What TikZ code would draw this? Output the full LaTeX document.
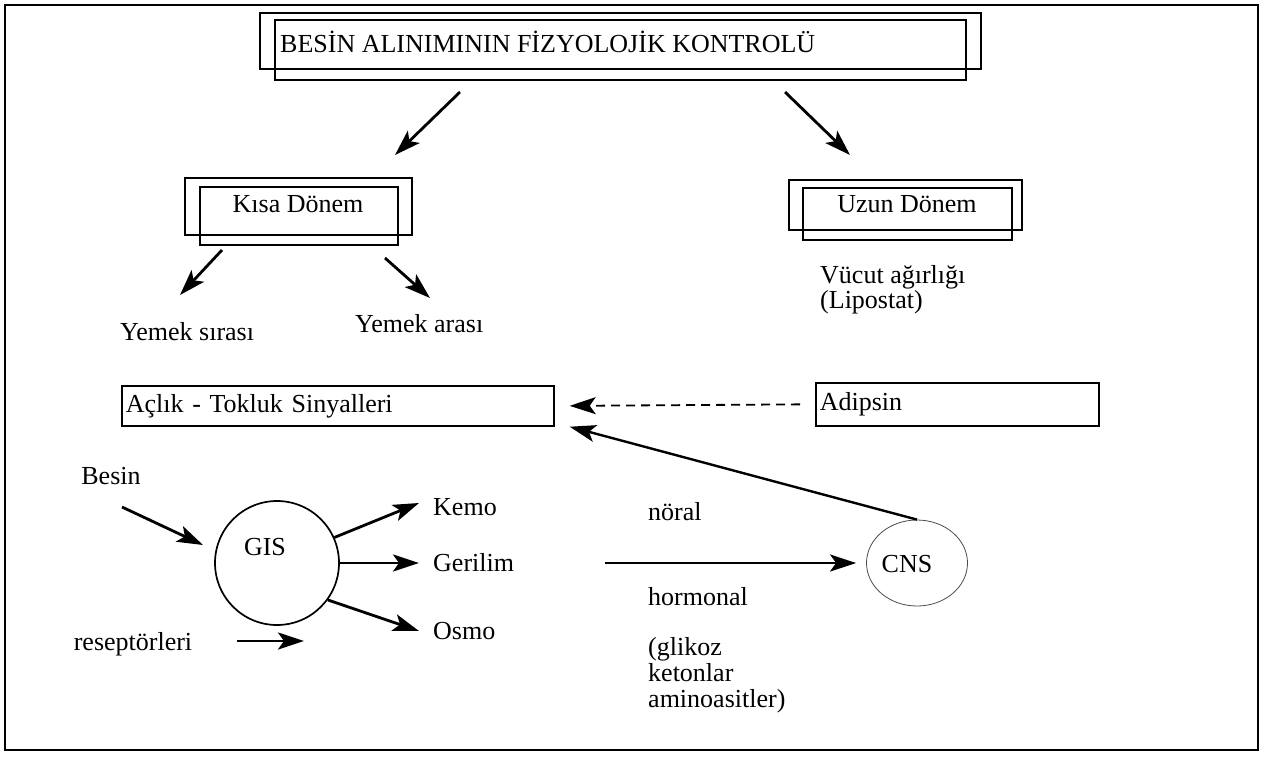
\documentclass[tikz,border=0pt]{standalone}
\usepackage{fontspec}
\setmainfont{Liberation Serif}
\usetikzlibrary{arrows.meta,shapes.geometric}

\tikzset{
  lbl/.style={font=\fontsize{26}{30}\selectfont, inner sep=0pt},
  box/.style={line width=1.7pt},
  sigbox/.style={draw, line width=1.7pt, font=\fontsize{26}{30}\selectfont,
    align=left, inner sep=4pt, anchor=north west},
  arr/.style={-{Stealth[length=26pt,width=17pt,inset=6pt]}, line width=2.8pt},
}

\begin{document}
\begin{tikzpicture}[x=1pt,y=-1pt]
    \useasboundingbox (0,0) rectangle (1265,756);
    \draw[line width=1.6pt] (5,5) rectangle (1258,750);

    % title box
    \draw[box] (260,13) rectangle (981,69);
    \draw[box] (275,20) rectangle (966,80);
    \node[lbl, anchor=base west] (title) at (280,52) {BESİN ALINIMININ FİZYOLOJİK KONTROLÜ};

    % short and long term
    \draw[box] (185,178) rectangle (412,235);
    \draw[box] (200,187) rectangle (398,245);
    \node[lbl, anchor=base] (kisa) at (298,212) {Kısa Dönem};
    \draw[box] (789,180) rectangle (1022,230);
    \draw[box] (803,188) rectangle (1012,240);
    \node[lbl, anchor=base] (uzun) at (907,212) {Uzun Dönem};

    \coordinate (t1) at (460,92);
    \coordinate (t2) at (785,92);
    \coordinate (k1) at (395,155);
    \coordinate (u1) at (850,155);
    \draw[arr] (t1) -- (k1);
    \draw[arr] (t2) -- (u1);

    \node[lbl, anchor=base west] (sirasi) at (120,340) {Yemek sırası};
    \node[lbl, anchor=base west] (arasi) at (355,332) {Yemek arası};
    \coordinate (k2) at (222,250);
    \coordinate (k3) at (385,258);
    \draw[arr] (k2) -- (180,295) coordinate (s1);
    \draw[arr] (k3) -- (430,298) coordinate (a1);

    \node[lbl, anchor=base west] (vucut) at (820,283) {Vücut ağırlığı};
    \node[lbl, anchor=base west] (lipo) at (820,308) {(Lipostat)};

    % signals
    \node[sigbox, text width=424pt, minimum height=40pt] (aclik) at (121,385) {Açlık - Tokluk Sinyalleri};
    \node[sigbox, text width=275pt, minimum height=43pt] (adipsin) at (815,382) {Adipsin};
    \draw[arr, dash pattern=on 9pt off 6pt, line width=1.8pt] (adipsin.west) ++(-15,0) coordinate (d1) -- ([xshift=15pt]aclik.east);

    % GIS
    \node[draw, circle, line width=1.7pt, minimum size=124pt, inner sep=0pt] (gis) at (277,563) {};
    \node[lbl, anchor=base] (gistxt) at (265,555) {GIS};
    \node[lbl, anchor=base] (besin) at (111,484) {Besin};
    \coordinate (b1) at (122,507);
    \draw[arr] (b1) -- (203,545) coordinate (b2);

    \node[lbl, anchor=base west] (kemo) at (433,515) {Kemo};
    \node[lbl, anchor=base west] (gerilim) at (433,571) {Gerilim};
    \node[lbl, anchor=base west] (osmo) at (433,639) {Osmo};
    \draw[arr] (gis.24) -- (419,503) coordinate (g1);
    \draw[arr] (gis.east) -- (419,563) coordinate (g2);
    \draw[arr] (gis.-36) -- (419,631) coordinate (g3);

    \node[lbl, anchor=base] (resept) at (133,650) {reseptörleri};
    \coordinate (r1) at (237,641);
    \draw[arr] (r1) -- (304,641) coordinate (r2);

    % CNS
    \node[draw, ellipse, line width=0.8pt, draw=black!70, minimum width=101pt, minimum height=86pt, inner sep=0pt] (cns) at (917,563) {};
    \node[lbl, anchor=base] (cnstxt) at (907,572) {CNS};
    \coordinate (h1) at (605,563);
    \draw[arr] (h1) -- ([xshift=-10pt]cns.west);
    \draw[arr, line width=2.4pt] (cns.north) -- ([xshift=15pt]aclik.south east);

    \node[lbl, anchor=base west] (noral) at (648,520) {nöral};
    \node[lbl, anchor=base west] (hormonal) at (648,605) {hormonal};
    \node[lbl, anchor=base west] (glikoz) at (648,655) {(glikoz};
    \node[lbl, anchor=base west] (keton) at (648,681) {ketonlar};
    \node[lbl, anchor=base west] (amino) at (648,707) {aminoasitler)};
\end{tikzpicture}
\end{document}
